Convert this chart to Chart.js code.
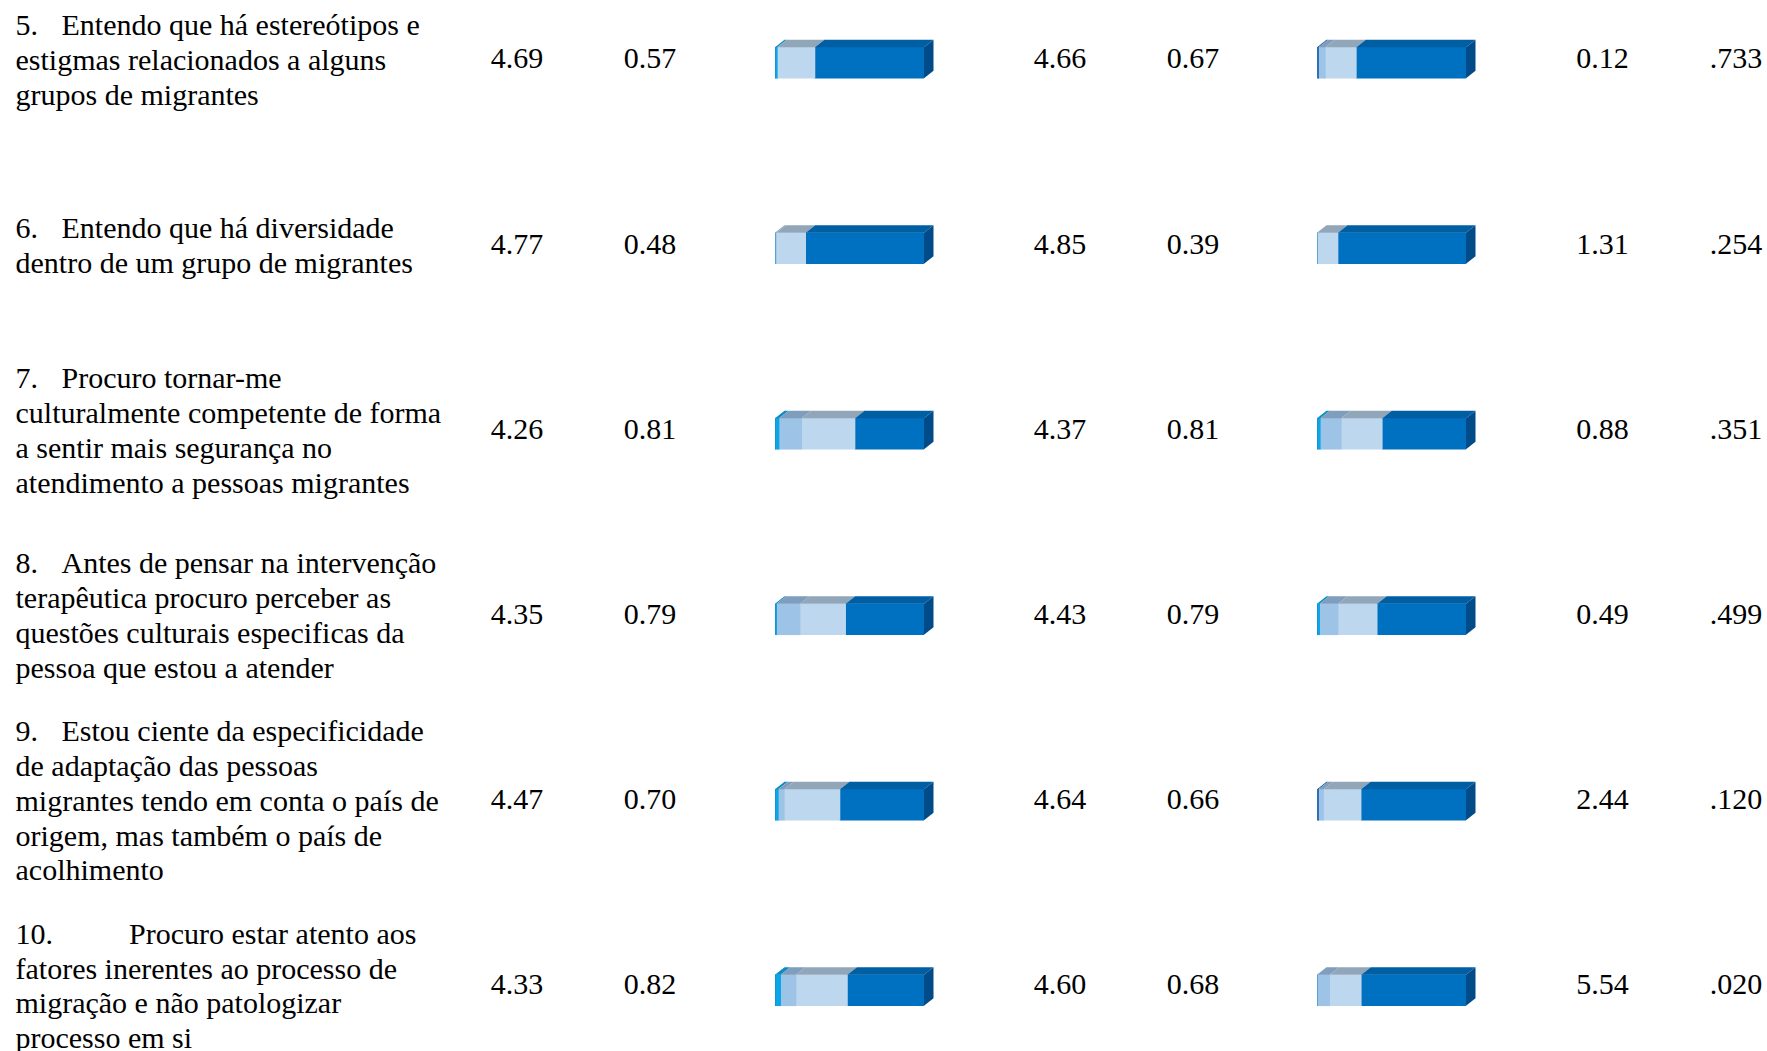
<!DOCTYPE html>
<html lang="pt">
<head>
<meta charset="utf-8">
<script src="https://cdn.jsdelivr.net/npm/chart.js@4.4.1/dist/chart.umd.min.js"></script>
<style>
  html, body { margin: 0; padding: 0; background: #ffffff; }
  body { width: 1767px; height: 1051px; overflow: hidden; position: relative;
         font-family: 'Liberation Serif', 'Times New Roman', serif; color: #000; }
  .item { position: absolute; left: 15.5px; width: 430px; display: flex; align-items: center; }
  .item .txt { font-size: 30px; line-height: 34.8px; white-space: nowrap; }
  .num-tag { display: inline-block; }
  .val { position: absolute; font-size: 30px; line-height: 34.9px; white-space: nowrap; transform: translateX(-50%); }
  .barbox { position: absolute; top: -30px; height: 1113px; width: 163px; }
</style>
</head>
<body>
<div id="rows"></div>
<div class="barbox" style="left:775px"><canvas id="g1" width="163" height="1113"></canvas></div>
<div class="barbox" style="left:1317px"><canvas id="g2" width="163" height="1113"></canvas></div>
<script>
// Item statements (number, then wrapped lines)
const itemNumbers = ['5.', '6.', '7.', '8.', '9.', '10.'];
const itemLines = [
  ['Entendo que há estereótipos e', 'estigmas relacionados a alguns', 'grupos de migrantes'],
  ['Entendo que há diversidade', 'dentro de um grupo de migrantes'],
  ['Procuro tornar-me', 'culturalmente competente de forma', 'a sentir mais segurança no', 'atendimento a pessoas migrantes'],
  ['Antes de pensar na intervenção', 'terapêutica procuro perceber as', 'questões culturais especificas da', 'pessoa que estou a atender'],
  ['Estou ciente da especificidade', 'de adaptação das pessoas', 'migrantes tendo em conta o país de', 'origem, mas também o país de', 'acolhimento'],
  ['Procuro estar atento aos', 'fatores inerentes ao processo de', 'migração e não patologizar', 'processo em si']
];

// Descriptive statistics per item
const mean1 = ['4.69', '4.77', '4.26', '4.35', '4.47', '4.33'];
const sd1   = ['0.57', '0.48', '0.81', '0.79', '0.70', '0.82'];
const mean2 = ['4.66', '4.85', '4.37', '4.43', '4.64', '4.60'];
const sd2   = ['0.67', '0.39', '0.81', '0.79', '0.66', '0.68'];
const fVal  = ['0.12', '1.31', '0.88', '0.49', '2.44', '5.54'];
const pVal  = ['.733', '.254', '.351', '.499', '.120', '.020'];

// Response distribution (% per answer level 1..5), first group
const g1Level1 = [0, 0, 0, 0, 0, 0];
const g1Level2 = [1.5, 0, 2.7, 1.1, 2.2, 3.8];
const g1Level3 = [0, 0.9, 15.2, 15.7, 4.0, 10.3];
const g1Level4 = [25.3, 19.7, 35.8, 30.6, 37.4, 34.5];
const g1Level5 = [73.2, 79.4, 46.3, 52.6, 56.4, 51.4];

// Response distribution (% per answer level 1..5), second group
const g2Level1 = [1.1, 0, 0, 0, 1.1, 0];
const g2Level2 = [0, 0, 2.2, 1.8, 0, 0];
const g2Level3 = [4.5, 0, 14.1, 12.3, 3.3, 8.5];
const g2Level4 = [20.8, 14.1, 27.5, 26.3, 25.2, 21.2];
const g2Level5 = [73.6, 85.9, 56.2, 59.6, 70.4, 70.3];

const levelLabels = ['1', '2', '3', '4', '5'];
const frontColors = ['#2f6fb3', '#0aa6e6', '#9dc3e6', '#bdd7ee', '#0070c0'];
const topColors   = ['#285f98', '#0a8cc4', '#7f9dbd', '#92a6ba', '#005ea3'];
const sideColor   = '#004b88';

// ---- text columns ----
const ROW_TOP = 58.8, ROW_STEP = 185.2, LINE_H = 34.9;
const rowsEl = document.getElementById('rows');
function addVal(text, cx, cy) {
  const s = document.createElement('div');
  s.className = 'val';
  s.textContent = text;
  s.style.left = cx + 'px';
  s.style.top = (cy - LINE_H / 2) + 'px';
  rowsEl.appendChild(s);
}
itemNumbers.forEach((n, i) => {
  const cy = ROW_TOP + ROW_STEP * i;
  const box = document.createElement('div');
  box.className = 'item';
  box.style.top = (cy + 1.6 - ROW_STEP / 2) + 'px';
  box.style.height = ROW_STEP + 'px';
  const txt = document.createElement('div');
  txt.className = 'txt';
  itemLines[i].forEach((line, k) => {
    const l = document.createElement('div');
    if (k === 0) {
      const tag = document.createElement('span');
      tag.className = 'num-tag';
      tag.style.width = (n.length > 2 ? 113.5 : 46) + 'px';
      tag.textContent = n;
      l.appendChild(tag);
      l.appendChild(document.createTextNode(line));
    } else {
      l.textContent = line;
    }
    txt.appendChild(l);
  });
  box.appendChild(txt);
  rowsEl.appendChild(box);

  addVal(mean1[i], 517, cy);
  addVal(sd1[i], 650, cy);
  addVal(mean2[i], 1060, cy);
  addVal(sd2[i], 1193, cy);
  addVal(fVal[i], 1602.5, cy);
  addVal(pVal[i], 1736, cy);
});

// ---- 3D extrusion for the stacked bars ----
const DX = 9.5, DY = 7.5;
const bar3d = {
  id: 'bar3d',
  afterDatasetsDraw(chart) {
    const ctx = chart.ctx;
    const metas = chart.data.datasets.map((d, k) => chart.getDatasetMeta(k));
    const rows = chart.data.labels.length;
    ctx.save();
    for (let r = 0; r < rows; r++) {
      let last = null;
      metas.forEach((meta, k) => {
        const el = meta.data[r];
        if (!el) return;
        const p = el.getProps(['x', 'y', 'base', 'height'], true);
        const left = Math.min(p.x, p.base), right = Math.max(p.x, p.base);
        if (right - left < 0.3) return;
        const top = p.y - p.height / 2;
        ctx.fillStyle = topColors[k];
        ctx.beginPath();
        ctx.moveTo(left, top);
        ctx.lineTo(left + DX, top - DY);
        ctx.lineTo(right + DX, top - DY);
        ctx.lineTo(right, top);
        ctx.closePath();
        ctx.fill();
        last = { right, top, bottom: p.y + p.height / 2 };
      });
      if (last) {
        ctx.fillStyle = sideColor;
        ctx.beginPath();
        ctx.moveTo(last.right, last.top);
        ctx.lineTo(last.right + DX, last.top - DY);
        ctx.lineTo(last.right + DX, last.bottom - DY);
        ctx.lineTo(last.right, last.bottom);
        ctx.closePath();
        ctx.fill();
      }
    }
    ctx.restore();
  }
};

function makeChart(id, series) {
  new Chart(document.getElementById(id), {
    type: 'bar',
    data: {
      labels: itemNumbers,
      datasets: series.map((vals, k) => ({
        label: levelLabels[k],
        data: vals,
        backgroundColor: frontColors[k],
        borderWidth: 0,
        barThickness: 31
      }))
    },
    options: {
      indexAxis: 'y',
      responsive: false,
      animation: false,
      devicePixelRatio: 1,
      layout: { padding: { left: 0, right: 14, top: 0, bottom: 0 } },
      plugins: { legend: { display: false }, tooltip: { enabled: false } },
      scales: {
        x: { stacked: true, min: 0, max: 100, display: false },
        y: { stacked: true, display: false }
      }
    },
    plugins: [bar3d]
  });
}

makeChart('g1', [g1Level1, g1Level2, g1Level3, g1Level4, g1Level5]);
makeChart('g2', [g2Level1, g2Level2, g2Level3, g2Level4, g2Level5]);
</script>
</body>
</html>
